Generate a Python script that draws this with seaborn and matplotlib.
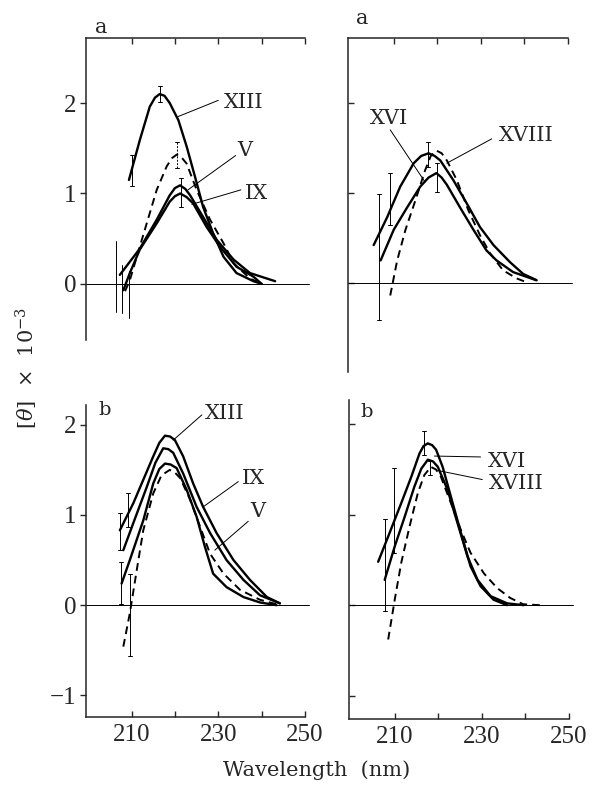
import matplotlib
matplotlib.use('Agg')
import matplotlib.pyplot as plt
import seaborn as sns

# %% values: wavelength (nm) vs [theta] x 10^-3
# panel a, left
al_xiii_x = [209.4, 211.9, 214.2, 215.4, 216.5, 217.6, 218.8, 220.8, 222.7, 224.6, 226.5, 228.8, 231.2, 234.2, 238.1, 240.0]
al_xiii_y = [1.15, 1.59, 1.96, 2.06, 2.10, 2.08, 2.00, 1.81, 1.52, 1.19, 0.85, 0.56, 0.30, 0.12, 0.03, 0.0]
al_v_x = [207.3, 211.9, 215.8, 218.8, 220.0, 221.2, 222.4, 223.5, 226.5, 229.6, 233.5, 237.3, 243.1]
al_v_y = [0.10, 0.39, 0.71, 0.98, 1.06, 1.09, 1.05, 0.98, 0.74, 0.49, 0.27, 0.12, 0.03]
al_ix_x = [208.1, 209.6, 211.9, 215.8, 218.8, 220.0, 221.2, 222.7, 224.2, 227.3, 230.4, 234.2, 238.1, 240.0]
al_ix_y = [-0.07, 0.12, 0.38, 0.67, 0.91, 0.97, 1.00, 0.96, 0.89, 0.63, 0.41, 0.19, 0.08, 0.0]
al_ref_x = [208.5, 209.6, 211.2, 213.5, 215.8, 218.1, 219.3, 220.4, 221.5, 222.7, 225.0, 228.1, 231.2, 233.5, 237.3, 240.0]
al_ref_y = [-0.08, 0.04, 0.30, 0.67, 1.04, 1.30, 1.39, 1.43, 1.40, 1.33, 1.04, 0.71, 0.45, 0.23, 0.06, 0.0]
al_err_x = [210.0, 216.5, 221.3]
al_err_lo = [1.08, 2.01, 0.85]
al_err_hi = [1.43, 2.19, 1.17]
al_dash_err_x = [220.5]
al_dash_err_lo = [1.28]
al_dash_err_hi = [1.57]
al_bar_x = [206.5, 207.7, 209.4]      # bars without caps
al_bar_lo = [-0.31, -0.32, -0.38]
al_bar_hi = [0.47, 0.21, 0.14]

# panel a, right
ar_xvi_x = [205.4, 208.5, 211.5, 214.6, 216.3, 218.0, 219.4, 220.7, 223.7, 226.8, 229.8, 232.9, 236.7, 239.7, 242.8]
ar_xvi_y = [0.42, 0.73, 1.07, 1.33, 1.41, 1.44, 1.41, 1.36, 1.14, 0.88, 0.62, 0.42, 0.23, 0.10, 0.03]
ar_xviii_x = [207.0, 210.0, 213.1, 216.1, 218.0, 219.8, 221.0, 222.2, 225.2, 228.3, 231.3, 233.6, 237.4, 242.7]
ar_xviii_y = [0.25, 0.59, 0.84, 1.07, 1.17, 1.22, 1.17, 1.09, 0.84, 0.59, 0.36, 0.25, 0.12, 0.03]
ar_ref_x = [209.2, 210.8, 212.7, 215.0, 217.2, 218.5, 219.8, 221.0, 222.2, 224.5, 227.1, 229.8, 232.1, 235.1, 238.2, 240.9]
ar_ref_y = [-0.14, 0.25, 0.59, 0.92, 1.25, 1.41, 1.47, 1.44, 1.36, 1.14, 0.81, 0.53, 0.33, 0.14, 0.05, 0.0]
ar_err_x = [206.7, 209.2, 217.9, 219.9]
ar_err_lo = [-0.41, 0.64, 1.29, 1.01]
ar_err_hi = [0.99, 1.22, 1.56, 1.33]

# panel b, left
bl_xiii_x = [207.3, 210.4, 212.7, 215.0, 216.4, 217.7, 218.9, 220.0, 221.9, 224.2, 226.5, 229.6, 233.5, 237.3, 241.2, 244.2]
bl_xiii_y = [0.83, 1.13, 1.39, 1.65, 1.80, 1.88, 1.87, 1.83, 1.65, 1.35, 1.09, 0.80, 0.50, 0.28, 0.09, 0.02]
bl_ix_x = [208.1, 210.4, 213.5, 215.5, 217.3, 218.5, 219.6, 221.9, 225.0, 228.1, 231.9, 235.8, 239.6, 244.2]
bl_ix_y = [0.61, 0.91, 1.31, 1.58, 1.74, 1.73, 1.69, 1.46, 1.09, 0.80, 0.50, 0.28, 0.11, 0.02]
bl_v_x = [207.7, 209.6, 212.7, 215.0, 216.4, 217.7, 219.0, 220.4, 222.7, 225.0, 226.9, 228.8, 231.9, 235.8, 239.6, 243.4]
bl_v_y = [0.24, 0.50, 0.94, 1.35, 1.51, 1.57, 1.56, 1.52, 1.28, 0.98, 0.65, 0.35, 0.20, 0.09, 0.03, 0.0]
bl_ref_x = [208.1, 209.6, 211.2, 212.7, 215.0, 216.9, 218.8, 220.0, 221.2, 223.5, 225.8, 228.1, 231.2, 235.0, 239.6, 243.4]
bl_ref_y = [-0.46, -0.09, 0.39, 0.83, 1.24, 1.44, 1.50, 1.47, 1.41, 1.17, 0.87, 0.57, 0.35, 0.17, 0.06, 0.01]
bl_err_x = [207.3, 209.2, 207.5, 209.6]
bl_err_lo = [0.61, 0.87, 0.01, -0.56]
bl_err_hi = [1.02, 1.24, 0.48, 0.35]

# panel b, right
br_xvi_x = [206.2, 208.5, 211.5, 213.8, 215.7, 216.6, 217.6, 218.6, 219.5, 221.0, 222.9, 225.2, 227.4, 229.7, 232.7, 235.8]
br_xvi_y = [0.48, 0.76, 1.13, 1.42, 1.68, 1.76, 1.79, 1.77, 1.72, 1.53, 1.20, 0.80, 0.43, 0.21, 0.06, 0.0]
br_xviii_x = [207.7, 210.0, 212.3, 214.5, 216.1, 217.6, 218.8, 219.9, 222.1, 224.4, 226.7, 229.0, 232.0, 235.8, 239.6]
br_xviii_y = [0.28, 0.65, 0.98, 1.31, 1.51, 1.61, 1.59, 1.53, 1.28, 0.91, 0.54, 0.28, 0.10, 0.02, 0.0]
br_ref_x = [208.5, 210.0, 211.5, 213.4, 215.3, 216.8, 218.3, 219.5, 220.6, 222.9, 225.2, 227.4, 230.5, 233.5, 236.5, 239.5, 243.3]
br_ref_y = [-0.38, 0.06, 0.47, 0.87, 1.24, 1.44, 1.53, 1.50, 1.42, 1.13, 0.83, 0.58, 0.35, 0.19, 0.08, 0.01, 0.0]
br_err_x = [207.7, 209.9, 216.8, 218.0]
br_err_lo = [-0.06, 0.58, 1.66, 1.44]
br_err_hi = [0.95, 1.52, 1.93, 1.59]

x_ticks = [210, 220, 230, 240, 250]
x_ticklabels = ['210', '', '230', '', '250']

# %%
sns.set_style('ticks')
plt.rcParams['font.family'] = ['Liberation Serif', 'DejaVu Serif']
plt.rcParams['mathtext.fontset'] = 'dejavuserif'
plt.rcParams['axes.linewidth'] = 1.1

LABEL_FONT = ['DejaVu Serif']
SOLID = dict(color='black', linewidth=1.7)
DASHED = dict(color='black', linewidth=1.4, linestyle=(0, (4, 2.6)))
THIN = dict(color='black', linewidth=0.7)

fig = plt.figure(figsize=(5.92, 7.89), dpi=100)
ax_al = fig.add_axes([0.1453, 0.5691, 0.370, 0.3828])
ax_ar = fig.add_axes([0.5878, 0.5285, 0.3716, 0.4233])
ax_bl = fig.add_axes([0.1453, 0.0913, 0.370, 0.3954])
ax_br = fig.add_axes([0.5895, 0.0887, 0.3716, 0.4043])


def curve(ax, x, y, dashed=False):
    sns.lineplot(x=x, y=y, ax=ax, sort=False, estimator=None,
                 **(DASHED if dashed else SOLID))


def bars(ax, x, lo, hi, cap=True, dashed=False):
    for xi, a, b in zip(x, lo, hi):
        ls = (0, (2, 1.5)) if dashed else '-'
        ax.plot([xi, xi], [a, b], ls=ls, **THIN)
        if cap:
            ax.plot([xi - 0.45, xi + 0.45], [a, a], **THIN)
            ax.plot([xi - 0.45, xi + 0.45], [b, b], **THIN)


def label(ax, txt, x, y, leader):
    ax.text(x, y, txt, fontsize=15, family=LABEL_FONT, ha='center', va='center')
    (x0, y0), (x1, y1) = leader
    ax.plot([x0, x1], [y0, y1], **THIN)


def style(ax, top, left, ylim):
    ax.set_xlim(199.5, 250)
    ax.set_ylim(*ylim)
    ax.set_xlabel('')
    ax.set_ylabel('')
    ax.spines['right'].set_visible(False)
    ax.spines['top' if not top else 'bottom'].set_visible(False)
    ax.set_xticks(x_ticks)
    if top:
        ax.xaxis.set_ticks_position('top')
        ax.tick_params(axis='x', direction='in', length=4, width=1, labeltop=False, labelbottom=False)
    else:
        ax.set_xticklabels(x_ticklabels)
        ax.tick_params(axis='x', direction='in', length=4, width=1, pad=5, labelsize=18)
    yt = [0, 1, 2] if top else [-1, 0, 1, 2]
    ax.set_yticks(yt)
    if left:
        ax.set_yticklabels([str(v).replace('-', '\u2212') for v in yt])
        ax.tick_params(axis='y', direction='out', length=4, width=1, pad=3, labelsize=18)
    else:
        ax.tick_params(axis='y', direction='in', length=4, width=1, labelleft=False)
    ax.plot([199.5, 251], [0, 0], clip_on=False, **THIN)


# panel a, left
curve(ax_al, al_xiii_x, al_xiii_y)
curve(ax_al, al_v_x, al_v_y)
curve(ax_al, al_ix_x, al_ix_y)
curve(ax_al, al_ref_x, al_ref_y, dashed=True)
bars(ax_al, al_err_x, al_err_lo, al_err_hi)
bars(ax_al, al_dash_err_x, al_dash_err_lo, al_dash_err_hi, dashed=True)
bars(ax_al, al_bar_x, al_bar_lo, al_bar_hi, cap=False)
label(ax_al, 'XIII', 235.8, 2.01, [(230.0, 2.03), (220.7, 1.85)])
label(ax_al, 'V', 236.2, 1.48, [(234.0, 1.42), (223.0, 1.04)])
label(ax_al, 'IX', 238.9, 1.00, [(235.2, 1.04), (223.9, 0.88)])
style(ax_al, top=True, left=True, ylim=(-0.62, 2.72))
ax_al.text(203.1, 2.84, 'a', fontsize=15, family=LABEL_FONT, ha='center', va='center')

# panel a, right
curve(ax_ar, ar_xvi_x, ar_xvi_y)
curve(ax_ar, ar_xviii_x, ar_xviii_y)
curve(ax_ar, ar_ref_x, ar_ref_y, dashed=True)
bars(ax_ar, ar_err_x, ar_err_lo, ar_err_hi)
label(ax_ar, 'XVI', 208.9, 1.83, [(209.2, 1.70), (217.2, 1.12)])
label(ax_ar, 'XVIII', 240.5, 1.64, [(232.5, 1.60), (222.2, 1.33)])
style(ax_ar, top=True, left=False, ylim=(-0.99, 2.72))
ax_ar.text(202.8, 2.94, 'a', fontsize=15, family=LABEL_FONT, ha='center', va='center')

# panel b, left
curve(ax_bl, bl_xiii_x, bl_xiii_y)
curve(ax_bl, bl_ix_x, bl_ix_y)
curve(ax_bl, bl_v_x, bl_v_y)
curve(ax_bl, bl_ref_x, bl_ref_y, dashed=True)
bars(ax_bl, bl_err_x, bl_err_lo, bl_err_hi)
label(ax_bl, 'XIII', 231.5, 2.13, [(226.2, 2.11), (219.6, 1.83)])
label(ax_bl, 'IX', 238.1, 1.41, [(234.6, 1.37), (226.5, 1.09)])
label(ax_bl, 'V', 239.2, 1.04, [(236.9, 0.93), (229.2, 0.61)])
style(ax_bl, top=False, left=True, ylim=(-1.24, 2.22))
ax_bl.text(203.8, 2.17, 'b', fontsize=14, family=LABEL_FONT, ha='center', va='center')

# panel b, right
curve(ax_br, br_xvi_x, br_xvi_y)
curve(ax_br, br_xviii_x, br_xviii_y)
curve(ax_br, br_ref_x, br_ref_y, dashed=True)
bars(ax_br, br_err_x, br_err_lo, br_err_hi)
label(ax_br, 'XVI', 235.8, 1.59, [(229.7, 1.64), (219.1, 1.65)])
label(ax_br, 'XVIII', 238.0, 1.35, [(230.1, 1.39), (219.9, 1.49)])
style(ax_br, top=False, left=False, ylim=(-1.26, 2.27))
ax_br.text(203.6, 2.14, 'b', fontsize=14, family=LABEL_FONT, ha='center', va='center')

fig.text(0.046, 1 - 368 / 789, r'[$\theta$]  $\times$  10$^{-3}$', rotation=90,
         fontsize=15, family=LABEL_FONT, ha='center', va='center')
fig.text(317 / 592, 1 - 770 / 789, 'Wavelength  (nm)', fontsize=15,
         family=LABEL_FONT, ha='center', va='center')

plt.savefig('out.png', dpi=100)
